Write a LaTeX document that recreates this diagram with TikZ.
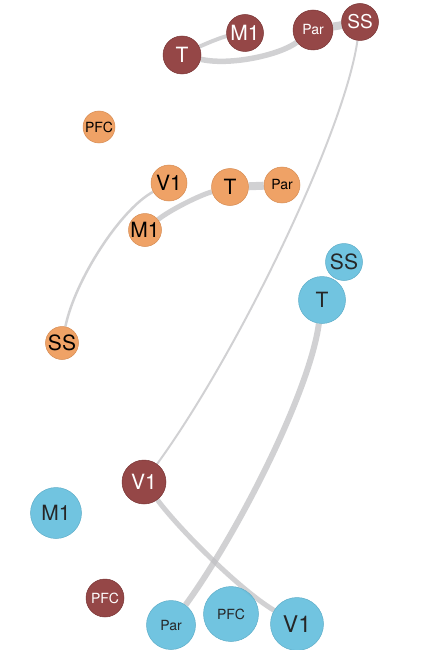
\documentclass[tikz,border=0pt]{standalone}
\usepackage{fontspec}
\setmainfont{TeX Gyre Heros}
\usetikzlibrary{backgrounds}
\definecolor{regred}{RGB}{142,60,60}
\definecolor{regorange}{RGB}{238,156,92}
\definecolor{regblue}{RGB}{104,192,222}
\definecolor{linkgray}{RGB}{190,190,193}

\begin{document}
\begin{tikzpicture}[x=1pt, y=-1pt,
    area/.style={circle, inner sep=0pt, minimum size=#1, fill opacity=0.94, text opacity=1},
    red area/.style={area=#1, fill=regred, draw=regred!85!black, line width=0.5pt, text=white},
    orange area/.style={area=#1, fill=regorange, draw=regorange!90!black, line width=0.5pt, text=black},
    blue area/.style={area=#1, fill=regblue, draw=regblue!90!black, line width=0.5pt, text=black!85},
    big/.style={font=\fontsize{21}{21}\selectfont},
    small/.style={font=\fontsize{14}{14}\selectfont},
    link/.style={draw=linkgray, line width=#1, opacity=0.7}]
    \useasboundingbox (0,0) rectangle (430,650);

    % red areas
    \node[red area=38, big] (rT) at (182,55) {T};
    \node[red area=37, big] (rM1) at (245,33) {M1};
    \node[red area=40, small] (rPar) at (313,30) {Par};
    \node[red area=37, font=\fontsize{19}{19}\selectfont] (rSS) at (360,22) {SS};
    \node[red area=44, big] (rV1) at (144,482) {V1};
    \node[red area=38, small] (rPFC) at (105,598) {PFC};

    % orange areas
    \node[orange area=32, small] (oPFC) at (99,127) {PFC};
    \node[orange area=36, big] (oV1) at (169,183) {V1};
    \node[orange area=37, big] (oT) at (230,187) {T};
    \node[orange area=36, small] (oPar) at (282,185) {Par};
    \node[orange area=33, big] (oM1) at (145,230) {M1};
    \node[orange area=33, big] (oSS) at (62,343) {SS};

    % blue areas
    \node[blue area=37, big] (bSS) at (344,262) {SS};
    \node[blue area=47, big] (bT) at (322,300) {T};
    \node[blue area=51, big] (bM1) at (56,513) {M1};
    \node[blue area=49, small] (bPar) at (171,625) {Par};
    \node[blue area=55, small] (bPFC) at (231,614) {PFC};
    \node[blue area=53, font=\fontsize{23}{23}\selectfont] (bV1) at (297,624) {V1};

    % links
    \begin{pgfonlayer}{background}
    \draw[link=4] (rT) .. controls (205,44) and (222,37) .. (rM1);
    \draw[link=5.5] (rT) .. controls (230,66) and (280,55) .. (rPar);
    \draw[link=8] (rPar) -- (rSS);
    \draw[link=2] (rSS) .. controls (345,130) and (240,350) .. (rV1);
    \draw[link=2.5] (oV1) .. controls (120,210) and (75,280) .. (oSS);
    \draw[link=5] (oM1) .. controls (170,210) and (200,195) .. (oT);
    \draw[link=8] (oT) -- (oPar);
    \draw[link=6] (bT) .. controls (310,390) and (240,530) .. (bPar);
    \draw[link=5] (rV1) .. controls (180,530) and (240,590) .. (bV1);
    \end{pgfonlayer}
\end{tikzpicture}
\end{document}
